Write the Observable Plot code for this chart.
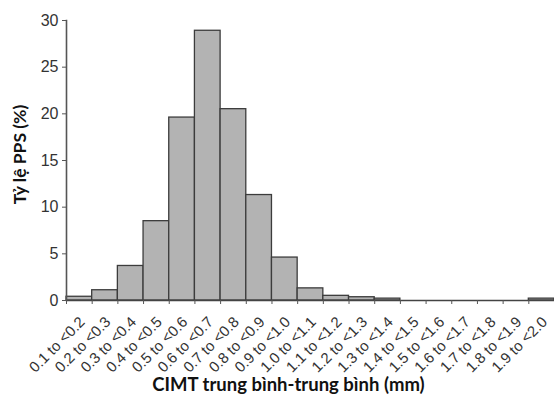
<!DOCTYPE html>
<html>
<head>
<meta charset="utf-8">
<script src="https://cdn.jsdelivr.net/npm/d3@7"></script>
<script src="https://cdn.jsdelivr.net/npm/@observablehq/plot@0.6"></script>
<style>
  html, body { margin: 0; padding: 0; background: #fff; }
  #chart svg { display: block; }
  #chart g[aria-label="y-axis tick label"] text { font-size: 16px; }
</style>
</head>
<body>
<div id="chart"></div>
<script>
// Bin boundaries (mm)
const binStart = [0.1,0.2,0.3,0.4,0.5,0.6,0.7,0.8,0.9,1.0,1.1,1.2,1.3,1.4,1.5,1.6,1.7,1.8,1.9];
const binEnd   = [0.2,0.3,0.4,0.5,0.6,0.7,0.8,0.9,1.0,1.1,1.2,1.3,1.4,1.5,1.6,1.7,1.8,1.9,2.0];
const categories = ["0.1 to <0.2","0.2 to <0.3","0.3 to <0.4","0.4 to <0.5","0.5 to <0.6","0.6 to <0.7","0.7 to <0.8","0.8 to <0.9","0.9 to <1.0","1.0 to <1.1","1.1 to <1.2","1.2 to <1.3","1.3 to <1.4","1.4 to <1.5","1.5 to <1.6","1.6 to <1.7","1.7 to <1.8","1.8 to <1.9","1.9 to <2.0"];
const percent = [0.4,1.1,3.7,8.5,19.6,28.9,20.5,11.3,4.6,1.3,0.5,0.35,0.2,0,0,0,0,0,0.2];
const yTicks = [0,5,10,15,20,25,30];
const xLabel = "CIMT trung bình-trung bình (mm)";
const yLabel = "Tỷ lệ PPS (%)";

const data = categories.map((c, i) => ({label: c, x1: binStart[i], x2: binEnd[i], mid: (binStart[i] + binEnd[i]) / 2, y: percent[i]}));
const boundaries = binStart.concat([binEnd[binEnd.length - 1]]);

const plot = Plot.plot({
  width: 554,
  height: 395,
  marginLeft: 66,
  marginRight: 0,
  marginTop: 20,
  marginBottom: 95,
  style: {fontFamily: "'Liberation Sans', Arial, sans-serif", fontSize: "15px", color: "#333", background: "#fff"},
  x: {type: "linear", domain: [0.1, 2.0]},
  y: {domain: [0, 30]},
  marks: [
    Plot.rectY(data, {x1: "x1", x2: "x2", y: "y", fill: "#b3b3b3", stroke: "#3c3c3c", strokeWidth: 1.3}),
    Plot.ruleY([0], {stroke: "#444", strokeWidth: 1.6}),
    Plot.frame({anchor: "left", stroke: "#555", strokeWidth: 1.6}),
    Plot.axisY({ticks: yTicks, tickSize: 4, tickPadding: 4, label: null, fontSize: 16, stroke: "#555"}),
    Plot.axisX({ticks: boundaries, tickSize: 4, tickFormat: () => "", label: null, stroke: "#555"}),
    Plot.text(data, {x: "mid", y: 0, text: "label", rotate: -45, textAnchor: "end", dx: 3, dy: 19, fontSize: 15, fill: "#333"}),
    Plot.text([xLabel], {frameAnchor: "bottom", lineAnchor: "middle", textAnchor: "middle", dx: -22, dy: 85, fontSize: 18.5, fontWeight: "bold", fontFamily: "Lato, 'Open Sans', sans-serif", fill: "#111"}),
    Plot.text([yLabel], {frameAnchor: "left", rotate: -90, textAnchor: "middle", lineAnchor: "middle", dx: -46, dy: -6, fontSize: 17.5, fontWeight: "bold", fontFamily: "Lato, 'Open Sans', sans-serif", fill: "#111"})
  ]
});
document.getElementById("chart").appendChild(plot);
</script>
</body>
</html>
